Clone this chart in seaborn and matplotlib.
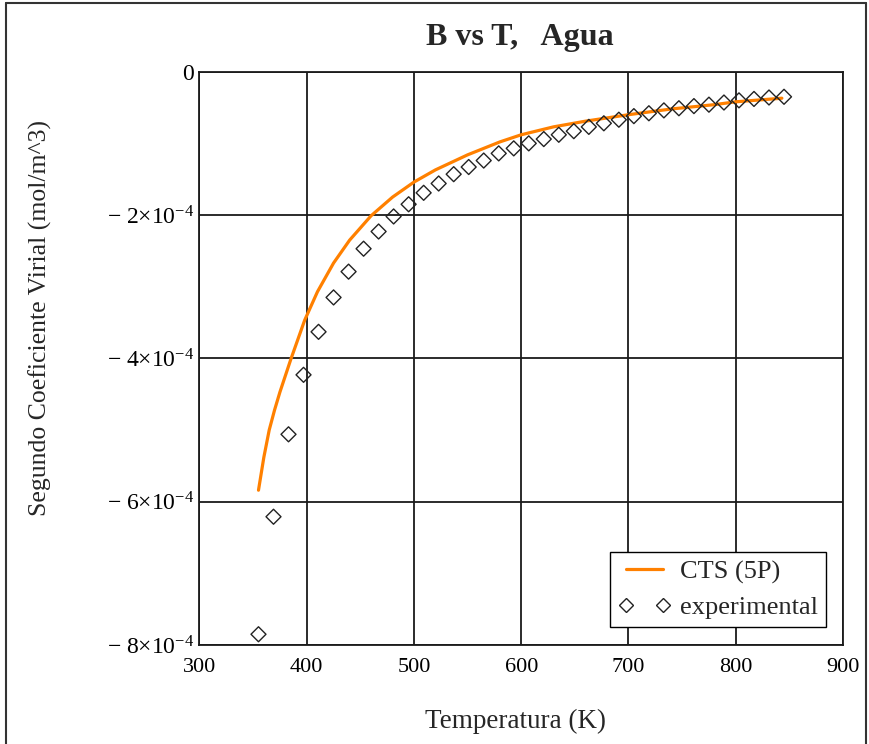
import matplotlib
matplotlib.use("Agg")
import matplotlib.pyplot as plt
from matplotlib.lines import Line2D
import seaborn as sns
import pandas as pd

# ---- data ----
T_exp = [355, 369, 383, 397, 411, 425, 439, 453, 467, 481, 495, 509, 523, 537,
         551, 565, 579, 593, 607, 621, 635, 649, 663, 677, 691, 705, 719, 733,
         747, 761, 775, 789, 803, 817, 831, 845]
B_exp = [-7.85, -6.21, -5.06, -4.23, -3.63, -3.15, -2.79, -2.47, -2.23, -2.02,
         -1.85, -1.69, -1.56, -1.43, -1.33, -1.24, -1.14, -1.07, -1.00, -0.94,
         -0.88, -0.83, -0.77, -0.72, -0.67, -0.62, -0.58, -0.54, -0.51, -0.48,
         -0.46, -0.43, -0.40, -0.38, -0.36, -0.35]  # x 1e-4

T_cts = [355, 360, 365, 370, 375, 385, 398, 410, 425, 440, 460, 480, 500, 520,
         550, 580, 600, 630, 660, 700, 740, 780, 800, 843]
B_cts = [-5.84, -5.38, -5.00, -4.72, -4.47, -4.02, -3.47, -3.07, -2.67, -2.35,
         -2.01, -1.75, -1.54, -1.37, -1.16, -0.98, -0.88, -0.77, -0.69, -0.60,
         -0.52, -0.46, -0.42, -0.37]  # x 1e-4

x_ticks = [300, 400, 500, 600, 700, 800, 900]
y_ticks = [0, -2e-4, -4e-4, -6e-4, -8e-4]
y_tick_labels = ["0", r"$-\ 2{\times}10^{-4}$", r"$-\ 4{\times}10^{-4}$",
                 r"$-\ 6{\times}10^{-4}$", r"$-\ 8{\times}10^{-4}$"]

title = "B vs T,   Agua"
x_label = "Temperatura (K)"
y_label = "Segundo Coeficiente Virial (mol/m^3)"
series_names = ["CTS (5P)", "experimental"]

df_exp = pd.DataFrame({"T": T_exp, "B": [b * 1e-4 for b in B_exp]})
df_cts = pd.DataFrame({"T": T_cts, "B": [b * 1e-4 for b in B_cts]})

# ---- style ----
sns.set_style("white")
plt.rcParams["font.family"] = ["Liberation Serif", "DejaVu Serif"]
plt.rcParams["mathtext.fontset"] = "custom"
plt.rcParams["mathtext.rm"] = "Liberation Serif"
plt.rcParams["mathtext.it"] = "Liberation Serif:italic"
plt.rcParams["mathtext.bf"] = "Liberation Serif:bold"
plt.rcParams["mathtext.default"] = "rm"

orange = "#FF8000"
gridc = "#1a1a1a"

fig = plt.figure(figsize=(8.7, 7.44), dpi=100)
ax = fig.add_axes([199.5 / 870, 1 - 645 / 744, (843 - 199.5) / 870, (645 - 71.7) / 744])

sns.lineplot(data=df_cts, x="T", y="B", ax=ax, color=orange, linewidth=2.3,
             sort=False, estimator=None, legend=False, zorder=3)
sns.scatterplot(data=df_exp, x="T", y="B", ax=ax, marker="D", s=58,
                facecolor="none", edgecolor="#222222", linewidth=1.0,
                legend=False, zorder=4)

ax.set_xlim(300, 900)
ax.set_ylim(-8e-4, 0)
ax.set_xticks(x_ticks)
ax.set_xticklabels([str(v) for v in x_ticks])
ax.set_yticks(y_ticks)
ax.set_yticklabels(y_tick_labels)
ax.tick_params(axis="both", length=0, colors="black")
ax.tick_params(axis="x", pad=9, labelsize=16)
ax.tick_params(axis="y", pad=4, labelsize=17)

ax.grid(True, color=gridc, linewidth=1.3)
ax.set_axisbelow(True)
for sp in ax.spines.values():
    sp.set_color(gridc)
    sp.set_linewidth(1.3)
    sp.set_visible(True)

ax.set_xlabel("")
ax.set_ylabel("")
fig.text(516 / 870, 1 - 721 / 744, x_label, ha="center", va="center", fontsize=19.5)
fig.text(40 / 870, 1 - 318 / 744, y_label, ha="center", va="center",
         rotation=90, fontsize=18.5)
fig.text(520 / 870, 1 - 38 / 744, title, ha="center", va="center",
         fontsize=23, fontweight="bold")

handles = [
    Line2D([0], [0], color=orange, linewidth=2.3),
    Line2D([0], [0], color="#222222", marker="D", markersize=7.5,
           markerfacecolor="none", markeredgewidth=1.0, linestyle="none"),
]
leg = ax.legend(handles, series_names, loc="lower right",
                bbox_to_anchor=(0.974, 0.031), borderaxespad=0,
                fontsize=19, numpoints=2, handlelength=2.0, handletextpad=0.35,
                borderpad=0.3, labelspacing=0.45, fancybox=False, framealpha=1,
                edgecolor="black")
leg.get_frame().set_linewidth(1.0)

# outer frame of the figure
for (x0, y0, x1, y1) in [(6 / 870, 0, 6 / 870, 1 - 3 / 744),
                         (6 / 870, 1 - 3 / 744, 866 / 870, 1 - 3 / 744),
                         (866 / 870, 1 - 3 / 744, 866 / 870, 0)]:
    fig.add_artist(Line2D([x0, x1], [y0, y1], color="#333333", linewidth=1.5,
                          transform=fig.transFigure))

fig.savefig("out.png", dpi=100)
